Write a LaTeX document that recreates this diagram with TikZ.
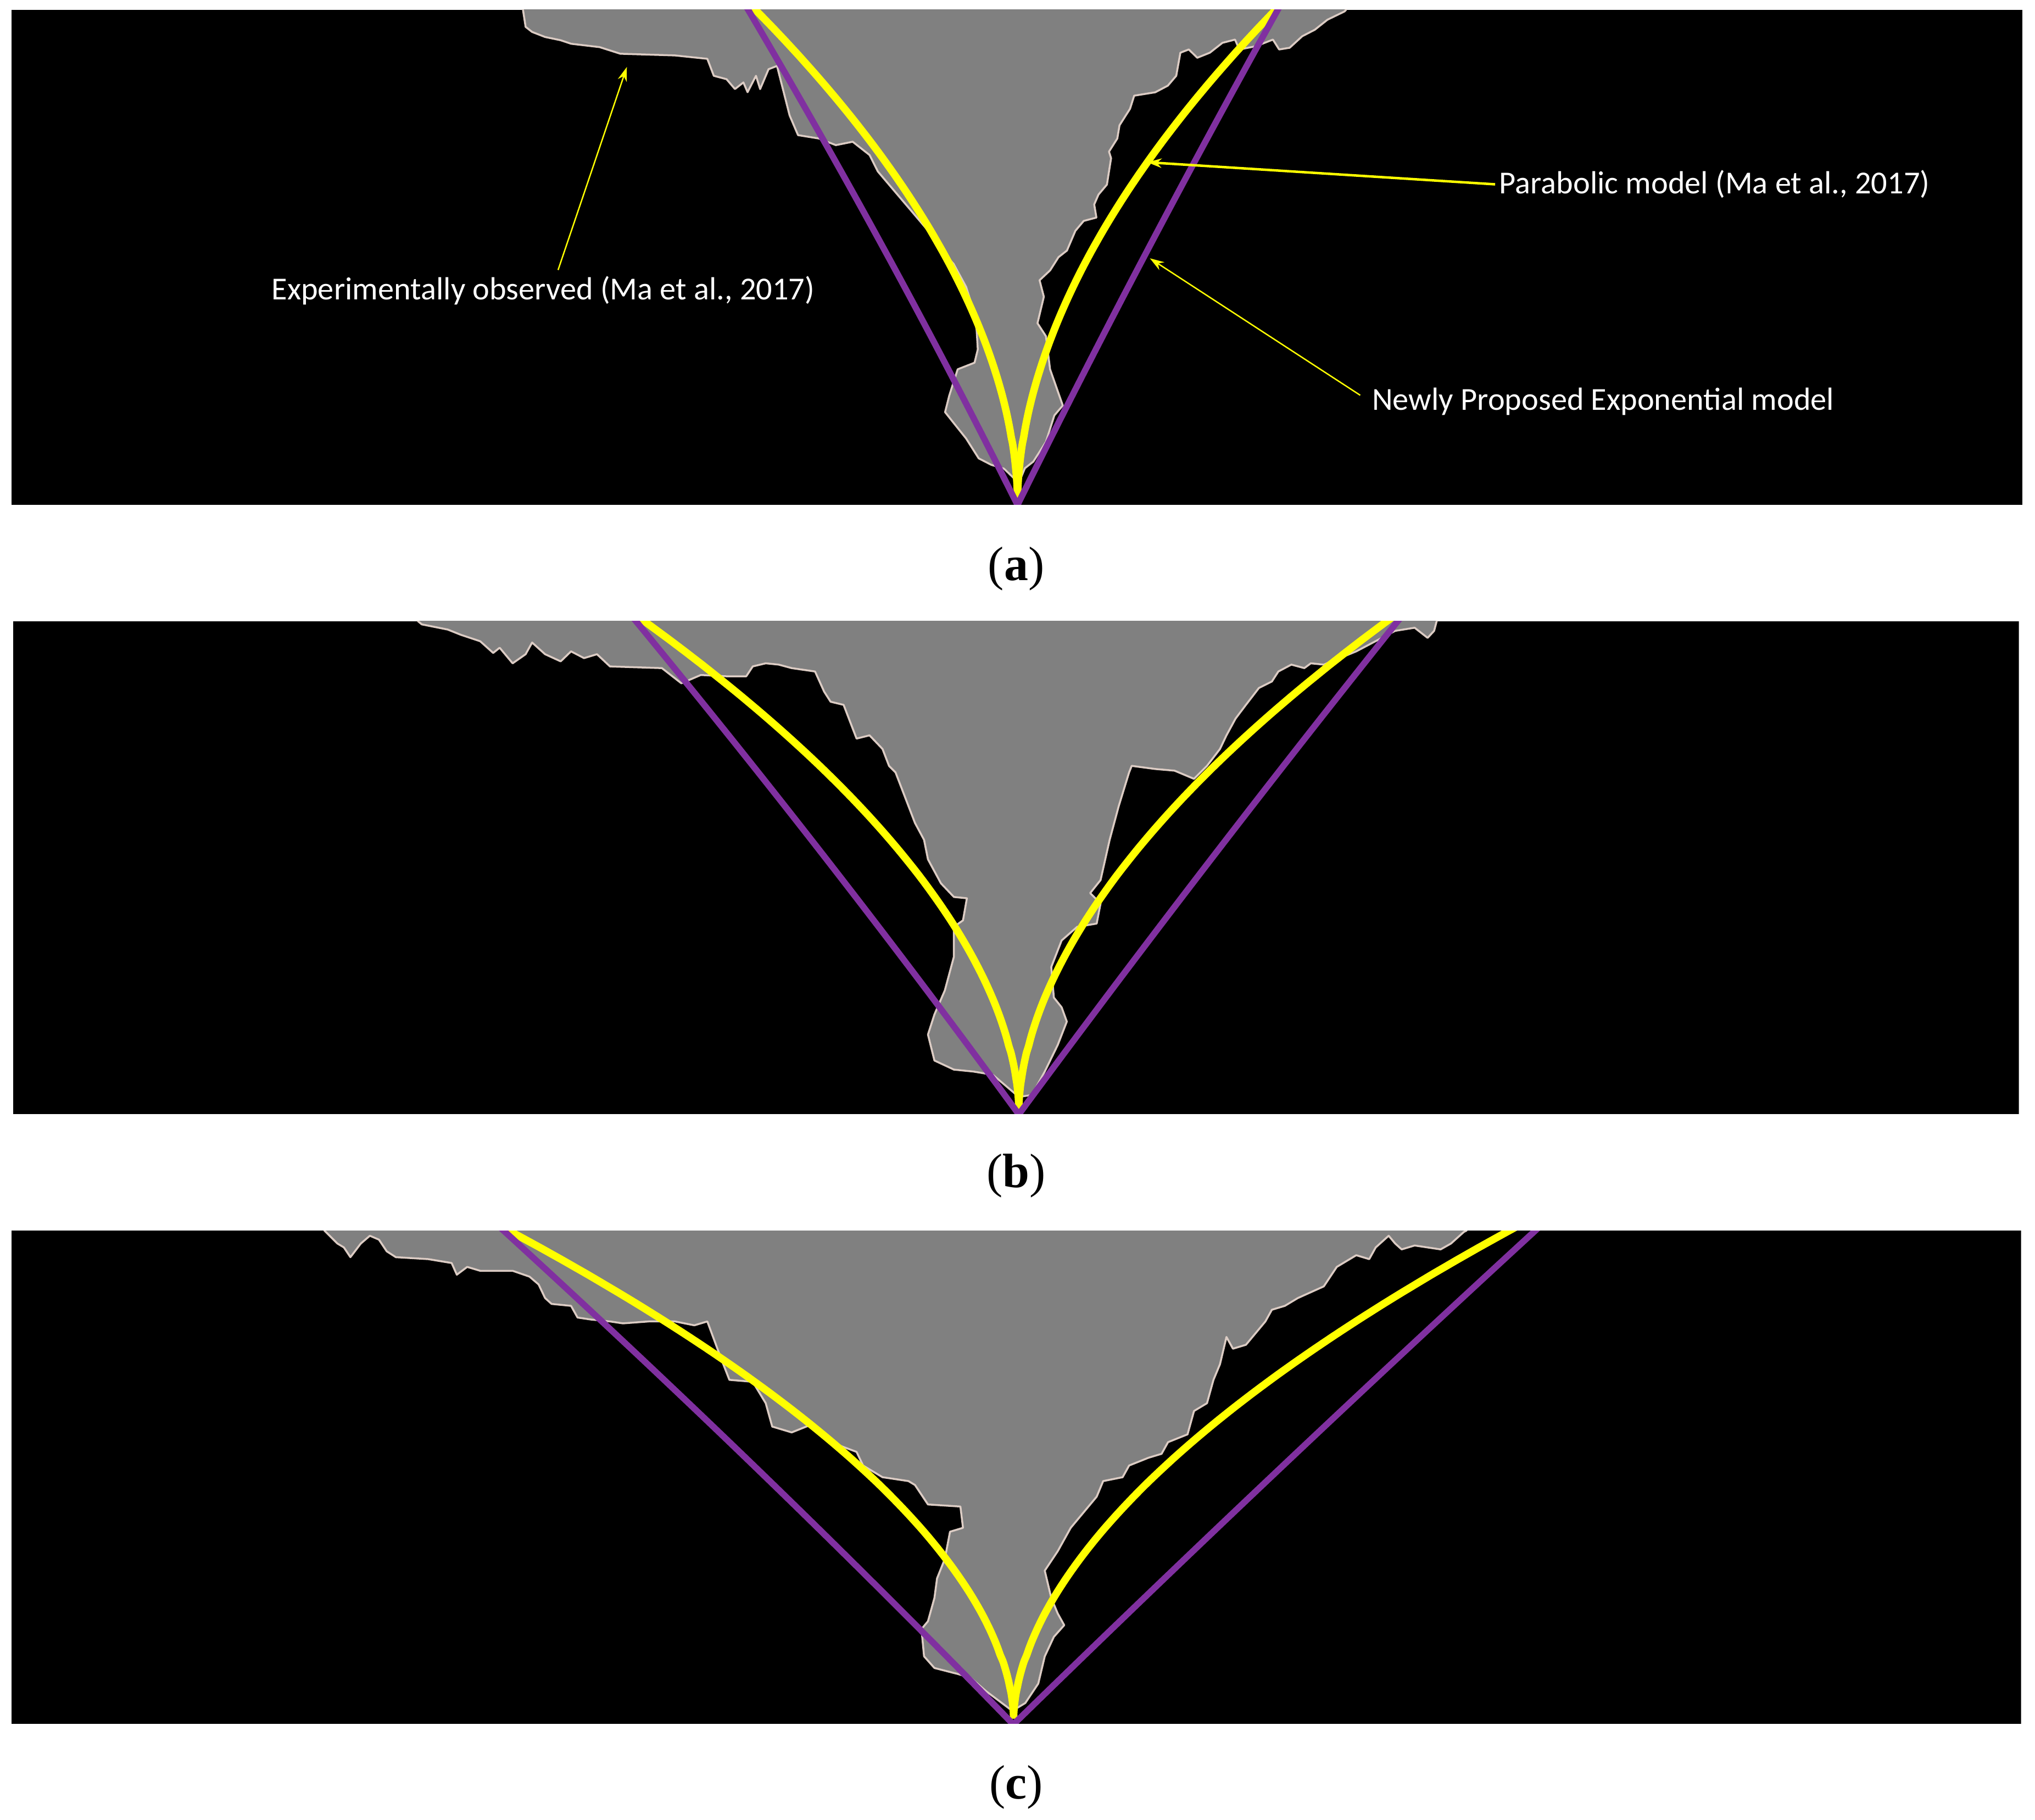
\documentclass[tikz,border=0pt]{standalone}
\usepackage{fontspec}
\setmainfont{Liberation Serif}
\newfontfamily\annfont{Carlito}
\usetikzlibrary{arrows.meta,calc}
\definecolor{crackgray}{HTML}{808080}
\definecolor{crackedge}{HTML}{DCCCC4}
\definecolor{modelpurple}{HTML}{8030A0}
\definecolor{modelyellow}{HTML}{FFFF00}
\tikzset{
  panelbg/.style={fill=black},
  crack/.style={fill=crackgray, draw=crackedge, line width=0.35mm, line join=round},
  purpleline/.style={draw=modelpurple, line width=1.15mm},
  yellowline/.style={draw=modelyellow, line width=1.35mm},
  ann/.style={text=white, font=\annfont\fontsize{16.6}{19}\selectfont, inner sep=0pt},
  annarrow/.style={draw=modelyellow, line width=0.25mm, -{Stealth[length=2.6mm,width=1.7mm]}},
  sublabel/.style={font=\fontsize{25}{30}\selectfont, inner sep=0pt}
}
% purple "exponential" model: slightly bowed line, #1 apex x, #2 apex y, #3 signed half width, #4 height, #5 bow
\newcommand{\expmodel}[5]{%
  \draw[purpleline] plot[domain=0:1.03, samples=60, smooth] ({#1+(#3)*(\x+(#5)*(\x*\x-\x))}, {#2-(#4)*\x});}
% yellow "parabolic" model
\newcommand{\parmodel}[5]{%
  \draw[yellowline] plot[domain=0:1.03, samples=80, smooth] ({#1+(#3)*(\x^(#5))}, {#2-(#4)*\x});}
\begin{document}
\begin{tikzpicture}[x=0.2363mm,y=-0.2363mm]
\useasboundingbox[fill=white] (0,0) rectangle (1568,1402);

% ---------------- panel (a)
\begin{scope}
\clip (8.9,7.6) rectangle (1558.2,388.9);
\fill[panelbg] (8.9,7.6) rectangle (1558.2,388.9);
\filldraw[crack] (403,0) -- (403,7.8) -- (405,20.7) -- (410,24.6) -- (420,28.5) -- (432,31) -- (440,33.7) -- (462,36.3) -- (478,41.4) -- (520,42.7) -- (545,45.3) -- (550,58.4) -- (559.8,61) -- (566.3,68.6) -- (572.8,63.5) -- (576,71) -- (582.5,58.4) -- (585.7,68.6) -- (592.2,53.3) -- (598.7,50.8) -- (608.4,88.9) -- (614.9,104.1) -- (631,106.7) -- (644,111.8) -- (657,109.2) -- (670,119.4) -- (676.4,132.1) -- (689.3,147.3) -- (702.3,162.6) -- (715.2,177.8) -- (725,193) -- (734.7,203.2) -- (744.4,221) -- (749.2,236.2) -- (752.5,254) -- (753.4,269.2) -- (750.9,279.4) -- (737.9,284.5) -- (731.4,304.8) -- (728.2,317.5) -- (736.3,327.7) -- (744.4,337.8) -- (754.1,353.1) -- (763.8,358.1) -- (773.5,361) -- (785,372)
 -- (789.7,360.7) -- (796.2,355.6) -- (805.9,340.4) -- (812.4,320) -- (818.9,312.4) -- (809.1,284.5) -- (805.9,259) -- (799.4,249) -- (804.3,228.6) -- (801,215.9) -- (809.1,208.3) -- (815.6,198.1) -- (822.1,193) -- (828.6,177.8) -- (835,170.2) -- (844.8,167.6) -- (843.1,157.5) -- (846.4,149.9) -- (852.9,142.2) -- (856.1,121.9) -- (854.5,116.8) -- (860.9,106.7) -- (862.6,96.5) -- (870.7,83.8) -- (873.9,73.7) -- (890.1,71.1) -- (899.8,66) -- (906.3,58.4) -- (909.5,40.6) -- (916,38.1) -- (922.5,44.5) -- (932.2,40.6) -- (941.9,33) -- (951.6,30.5) -- (954.9,38.1) -- (967.8,35.6) -- (980.8,30.5) -- (985.6,38.1) -- (993.7,36.8) -- (1003.4,27.9) -- (1013.1,22.9) -- (1022.8,15.2) -- (1035.8,8.9) -- (1037,7.8) -- (1037,0) -- cycle;
\parmodel{784}{386}{-201.5}{378}{1.85}
\parmodel{784}{386}{198.5}{378}{1.85}
\expmodel{784}{389}{-207.5}{381.4}{0.085}
\expmodel{784}{389}{200.5}{381.4}{0.06}
\coordinate (apexA) at (784,389);
\end{scope}

% annotations
\node[ann] (expt) at (418.5,224) {Experimentally observed (Ma et al., 2017)};
\node[ann, anchor=west] (para) at (1155,142) {Parabolic model (Ma et al., 2017)};
\node[ann, anchor=west] (newly) at (1057,309.4) {Newly Proposed Exponential model};
\coordinate (es) at (430,208);
\coordinate (etip) at (483,51.6);
\coordinate (ptip) at (884,125);
\coordinate (ntip) at (886,199);
\draw[annarrow] (es) -- (etip);
\draw[annarrow, line width=0.45mm] ([xshift=-2]para.west) -- (ptip);
\draw[annarrow] ([xshift=-6,yshift=-4]newly.north west) -- (ntip);

\node[sublabel] (la) at (783,438) {(\textbf{a})};

% ---------------- panel (b)
\begin{scope}
\clip (10.2,478.6) rectangle (1555.6,858.2);
\fill[panelbg] (10.2,478.6) rectangle (1555.6,858.2);
\filldraw[crack] (322,470) -- (322,478.5) -- (325,481) -- (345,485) -- (355,489) -- (370,494) -- (380,503) -- (385,499) -- (395,511) -- (405,504) -- (410,495) -- (420,504) -- (432,509.5) -- (440,501.8) -- (450,507) -- (460,504) -- (470,513.4) -- (510,514.7) -- (520,522.5) -- (525,526.4) -- (540,520) -- (560,521) -- (575,521) -- (580,513.4) -- (590,511) -- (600,512) -- (610,514.7) -- (628,517.3) -- (635,532.8) -- (640,540.6) -- (650,543) -- (655,556) -- (660,569) -- (670,566.5) -- (680,577) -- (685,590) -- (690,595) -- (700,621) -- (705,634) -- (712,647) -- (715,662) -- (725,680.5) -- (735,691) -- (745,692) -- (742,709) -- (735,714) -- (735,737) -- (728,763) -- (720,781.5) -- (715,797) -- (720,817) -- (735,824) -- (750,825.5) -- (765,828) -- (785,845)
 -- (795,843.6) -- (805,825.5) -- (815,805) -- (822,787) -- (818,776) -- (812,768.5) -- (810,745) -- (818,724.5) -- (830,714) -- (845,711.5) -- (848,696) -- (840,688) -- (848,678) -- (855,647) -- (862,621) -- (870,595) -- (872,590) -- (890,592.4) -- (905,593.7) -- (920,600) -- (930,590) -- (940,577) -- (945,566.5) -- (952,553.6) -- (960,543) -- (970,530) -- (980,525) -- (985,517.3) -- (995,512) -- (1005,514.7) -- (1010,511) -- (1020,512) -- (1045,501.8) -- (1075,486) -- (1090,483.6) -- (1100,491.4) -- (1105,486) -- (1107,478.5) -- (1107,470) -- cycle;
\parmodel{785}{855}{-288}{376}{1.8}
\parmodel{785}{855}{283}{376}{1.8}
\expmodel{785}{858.5}{-295}{380}{0.06}
\expmodel{785}{858.5}{292}{380}{0.04}
\coordinate (apexB) at (785,858.5);
\end{scope}

\node[sublabel] (lb) at (783,906) {(\textbf{b})};

% ---------------- panel (c)
\begin{scope}
\clip (8.9,948) rectangle (1557.3,1328);
\fill[panelbg] (8.9,948) rectangle (1557.3,1328);
\filldraw[crack] (250,940) -- (250,948) -- (260,958) -- (265,961) -- (270,968.5) -- (278,958) -- (285,952) -- (292,955) -- (298,964) -- (305,968.5) -- (330,970) -- (348,973) -- (352,982) -- (360,976) -- (370,979) -- (380,979) -- (395,979) -- (408,983.5) -- (415,989.5) -- (420,1000) -- (425,1004.5) -- (440,1006) -- (445,1015) -- (455,1016.5) -- (470,1018) -- (480,1019.5) -- (500,1018) -- (520,1018) -- (535,1021) -- (545,1018) -- (555,1045) -- (562,1063) -- (580,1064.5) -- (590,1081) -- (595,1099) -- (610,1103.5) -- (625,1097.5) -- (640,1111) -- (660,1118.5) -- (665,1129) -- (680,1138) -- (700,1141) -- (705,1144) -- (715,1159) -- (740,1160.6) -- (742,1177) -- (732,1180) -- (728,1201) -- (722,1216) -- (720,1231) -- (715,1249) -- (710,1255) -- (712,1276) -- (720,1285) -- (738,1289.6) -- (748,1292.6) -- (760,1303) -- (780,1318)
 -- (790,1312) -- (800,1297) -- (805,1276) -- (812,1261) -- (820,1252) -- (815,1243) -- (810,1231) -- (805,1210) -- (815,1195) -- (825,1177) -- (835,1165) -- (845,1153) -- (850,1141) -- (865,1138) -- (870,1129) -- (885,1123) -- (895,1120) -- (900,1111) -- (915,1105) -- (920,1087) -- (930,1081) -- (935,1063) -- (940,1051) -- (945,1030) -- (950,1039) -- (960,1036) -- (970,1024) -- (975,1018) -- (980,1009) -- (990,1006) -- (1000,1000) -- (1020,991) -- (1030,976) -- (1045,967) -- (1055,970) -- (1060,961) -- (1070,952) -- (1075,958) -- (1080,962.5) -- (1090,959.5) -- (1100,961) -- (1110,962.5) -- (1118,958) -- (1128,949) -- (1130,948) -- (1130,940) -- cycle;
\parmodel{781}{1324}{-389}{376}{1.8}
\parmodel{781}{1324}{382}{376}{1.8}
\expmodel{780.8}{1328.5}{-392.8}{380.5}{0.06}
\expmodel{780.8}{1328.5}{402.2}{380.5}{0.03}
\coordinate (apexC) at (780.8,1328.5);
\end{scope}

\node[sublabel] (lc) at (783,1377) {(\textbf{c})};
\end{tikzpicture}
\end{document}
